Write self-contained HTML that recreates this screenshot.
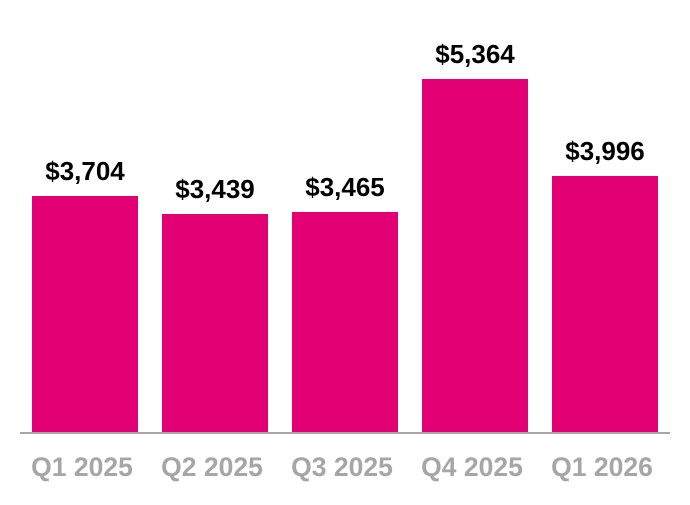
<!DOCTYPE html>
<html><head><style>
body{margin:0;width:690px;height:500px;background:#fff;overflow:hidden}
</style></head><body>
<svg width="690" height="500" xmlns="http://www.w3.org/2000/svg" font-family="Liberation Sans, sans-serif" font-weight="bold">
<g fill="#E20074">
<rect x="32" y="196" width="106" height="237"/>
<rect x="162" y="214" width="106" height="219"/>
<rect x="292" y="212" width="106" height="221"/>
<rect x="422" y="79" width="106" height="354"/>
<rect x="552" y="176" width="106" height="257"/>
</g>
<line x1="20" y1="433" x2="670" y2="433" stroke="#a6a6a6" stroke-width="2"/>
<g font-size="26" fill="#000" text-anchor="middle">
<text x="85" y="180">$3,704</text>
<text x="215" y="198">$3,439</text>
<text x="345" y="196">$3,465</text>
<text x="475" y="63">$5,364</text>
<text x="605" y="160">$3,996</text>
</g>
<g font-size="26.5" fill="#a6a6a6" text-anchor="middle">
<text x="82" y="476">Q1 2025</text>
<text x="212" y="476">Q2 2025</text>
<text x="342" y="476">Q3 2025</text>
<text x="472" y="476">Q4 2025</text>
<text x="602" y="476">Q1 2026</text>
</g>
</svg>
</body></html>
